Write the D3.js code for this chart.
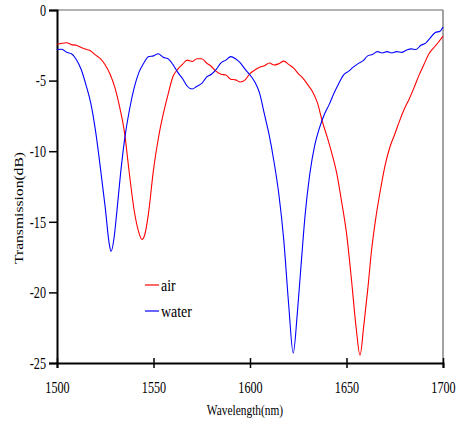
<!DOCTYPE html>
<html><head><meta charset="utf-8">
<script src="https://cdn.jsdelivr.net/npm/d3@7/dist/d3.min.js"></script>
<style>
body{margin:0;background:#fff;}
text{font-family:"Liberation Serif","Times New Roman",Times,"DejaVu Serif",serif !important;}
</style></head>
<body><svg id="c" width="461" height="428"></svg>
<script>
const xTicks = [1500,1550,1600,1650,1700];
const yTicks = [0,-5,-10,-15,-20,-25];
const seriesNames = ["air","water"];

const airWl = [1500,1502.5,1505,1507.5,1510,1512.5,1515,1517.5,1520,1522.5,1525,1527.5,1530,1532.5,1535,1537.5,1540,1542.5,1544,1545.5,1547.5,1550,1552.5,1555,1557.5,1560,1562.5,1565,1567.5,1570,1572.5,1575,1577.5,1580,1582.5,1585,1587.5,1590,1592.5,1595,1597.5,1600,1602.5,1605,1607.5,1610,1612.5,1615,1617.5,1620,1622.5,1625,1627.5,1630,1632.5,1635,1637.5,1640,1642.5,1645,1647.5,1650,1652.5,1655,1657,1659,1661,1663,1665,1667.5,1670,1672.5,1675,1677.5,1680,1682.5,1685,1687.5,1690,1692.5,1695,1697.5,1700];
const airT = [-2.43,-2.36,-2.32,-2.45,-2.5,-2.66,-2.78,-2.9,-3.2,-3.45,-3.9,-4.55,-5.5,-6.9,-8.7,-11.6,-14.2,-15.8,-16.25,-15.9,-14.3,-11.3,-9.1,-7.4,-6.0,-4.75,-4.2,-3.85,-3.55,-3.65,-3.45,-3.45,-3.75,-4.0,-4.35,-4.55,-4.6,-4.9,-4.95,-5.1,-4.95,-4.5,-4.25,-4.05,-3.95,-3.75,-3.9,-3.8,-3.62,-3.85,-4.1,-4.5,-4.85,-5.3,-5.8,-6.6,-7.9,-9.0,-10.2,-11.6,-13.6,-15.8,-19.0,-22.5,-24.45,-22.3,-19.8,-17.0,-14.9,-12.8,-11.0,-9.7,-8.8,-7.85,-7.0,-6.3,-5.5,-4.65,-3.9,-3.15,-2.7,-2.3,-1.85];

const waterWl = [1500,1502.5,1505,1507.5,1510,1512.5,1515,1517.5,1520,1522.5,1525,1527,1528,1529.5,1531,1533,1535,1537.5,1540,1542.5,1545,1547.5,1550,1552.5,1555,1557.5,1560,1562.5,1565,1567.5,1570,1572.5,1575,1577.5,1580,1582.5,1585,1587.5,1590,1592.5,1595,1597.5,1600,1602.5,1605,1607.5,1610,1612.5,1615,1617.5,1620,1622.4,1624.5,1626.5,1628.5,1631,1633.5,1636,1638.5,1641,1643.5,1646,1648.5,1651,1653.5,1656,1658.5,1661,1663.5,1666,1668.5,1671,1673.5,1676,1678.5,1681,1683.5,1686,1688.5,1691,1693.5,1696,1698.5,1700];
const waterT = [-2.8,-2.78,-3.0,-3.1,-3.5,-4.2,-5.3,-6.6,-8.6,-11.2,-14.0,-16.5,-17.1,-16.2,-14.3,-11.5,-9.2,-7.1,-5.5,-4.4,-3.75,-3.3,-3.25,-3.1,-3.35,-3.45,-3.85,-4.4,-4.85,-5.4,-5.6,-5.4,-5.2,-4.75,-4.55,-4.2,-3.75,-3.55,-3.3,-3.45,-3.75,-4.2,-4.6,-5.1,-5.9,-7.4,-8.9,-10.8,-13.1,-16.3,-20.8,-24.3,-21.5,-18.0,-14.6,-11.6,-9.6,-8.35,-7.4,-6.7,-5.9,-5.2,-4.6,-4.35,-4.05,-3.8,-3.6,-3.25,-3.15,-2.95,-3.05,-2.95,-3.05,-2.95,-3.0,-2.85,-2.75,-2.8,-2.5,-2.35,-1.95,-1.6,-1.5,-1.2];

const colors = ["#ff0000","#0000ff"];
const SX = 0.76; // horizontal squeeze of the original's lettering

const svg = d3.select("#c");
const L = 57, R = 443, T = 10, B = 363;
const x = d3.scaleLinear().domain([1500,1700]).range([L,R]);
const y = d3.scaleLinear().domain([-25,0]).range([B,T]);

svg.append("line").attr("x1",L).attr("x2",R).attr("y1",T).attr("y2",T).attr("stroke","#666").attr("stroke-width",1.2);
svg.append("line").attr("x1",R).attr("x2",R).attr("y1",T).attr("y2",B).attr("stroke","#666").attr("stroke-width",1.2);

const xa = svg.append("g").attr("transform",`translate(0,${B})`)
  .call(d3.axisBottom(x).tickValues(xTicks).tickSize(5).tickPadding(14).tickFormat(d3.format("d")));
xa.select(".domain").attr("stroke","#000").attr("stroke-width",2);
xa.selectAll(".tick line").attr("y1",-5).attr("stroke","#000").attr("stroke-width",1.5);
xa.selectAll(".tick text").attr("font-size",16).attr("fill","#000")
  .attr("dy",null).attr("y",30).attr("transform",`scale(${SX},1)`);

const ya = svg.append("g").attr("transform",`translate(${L},0)`)
  .call(d3.axisLeft(y).tickValues(yTicks).tickSize(8).tickPadding(3).tickFormat(d=>String(d)));
ya.select(".domain").attr("stroke","#000").attr("stroke-width",2);
ya.selectAll(".tick line").attr("stroke","#000").attr("stroke-width",1.5);
ya.selectAll(".tick text").attr("font-size",16).attr("fill","#000")
  .attr("x",-11/SX).attr("dy","0.33em").attr("transform",`scale(${SX},1)`);

const line = d3.line().x(d=>x(d[0])).y(d=>y(d[1])).curve(d3.curveMonotoneX);
const airData = airWl.map((w,i)=>[w,airT[i]]);
const waterData = waterWl.map((w,i)=>[w,waterT[i]]);
[airData, waterData].forEach((d,i)=>{
  svg.append("path").datum(d).attr("d",line).attr("fill","none").attr("stroke",colors[i]).attr("stroke-width",1.1);
});

svg.append("text").attr("transform",`translate(245,415) scale(${SX},1)`).attr("text-anchor","middle").attr("font-size",15).attr("fill","#000").text("Wavelength(nm)");
svg.append("text").attr("transform","translate(23,208) rotate(-90) scale(1.2,1)").attr("text-anchor","middle").attr("font-size",13).attr("fill","#000").text("Transmission(dB)");

const lg = svg.append("g");
seriesNames.forEach((n,i)=>{
  const yy = 285 + i*26;
  lg.append("line").attr("x1",145).attr("x2",159).attr("y1",yy).attr("y2",yy).attr("stroke",colors[i]).attr("stroke-width",1.2);
  lg.append("text").attr("transform",`translate(161,${yy+6}) scale(0.82,1)`).attr("font-size",17).attr("fill","#000").text(n);
});
</script></body></html>
